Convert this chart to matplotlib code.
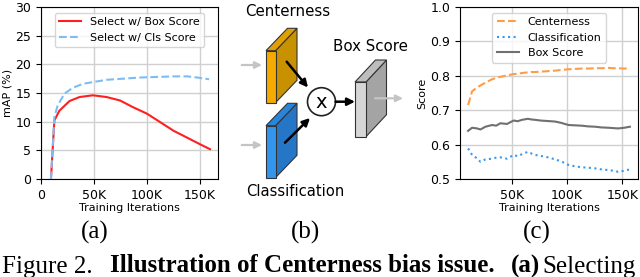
import matplotlib
matplotlib.use("Agg")
import matplotlib.pyplot as plt
from matplotlib.patches import Polygon, Circle, FancyArrowPatch
from matplotlib.ticker import FuncFormatter

# ---- data: panel (a) mAP vs training iterations ----
box_x = [9400, 12600, 17300, 26900, 36400, 49000, 61800, 74500, 87100,
         99900, 112600, 125200, 138000, 150700, 159500]
box_y = [0, 10.2, 11.9, 13.6, 14.3, 14.6, 14.3, 13.7, 12.5,
         11.4, 9.9, 8.4, 7.2, 6.0, 5.2]
cls_x = [9400, 12600, 15700, 22100, 30000, 39500, 49000, 61800, 77600,
         93500, 109400, 125200, 138000, 147500, 158600]
cls_y = [0, 10.8, 12.8, 14.9, 15.9, 16.6, 16.9, 17.3, 17.5,
         17.7, 17.8, 17.9, 17.9, 17.7, 17.4]

# ---- data: panel (c) scores vs training iterations ----
c_x = [10600, 14200, 18700, 21800, 26300, 32300, 36000, 39800, 45800, 51800, 55500, 59300,
       64700, 68000, 71300, 76000, 80400, 89400, 95000, 101400, 107000, 113400, 119000,
       125400, 131000, 137400, 142000, 146400, 152000, 157000]
centerness = [0.715, 0.755, 0.766, 0.772, 0.780, 0.790, 0.794, 0.797, 0.801, 0.805, 0.806, 0.808,
              0.810, 0.811, 0.811, 0.812, 0.813, 0.815, 0.817, 0.819, 0.820, 0.821, 0.821,
              0.822, 0.822, 0.823, 0.822, 0.822, 0.821, 0.822]
classification = [0.589, 0.570, 0.560, 0.550, 0.557, 0.559, 0.562, 0.563, 0.559, 0.570, 0.566, 0.572,
                   0.579, 0.574, 0.570, 0.567, 0.565, 0.557, 0.551, 0.541, 0.537, 0.534, 0.533,
                   0.531, 0.528, 0.526, 0.524, 0.521, 0.524, 0.528]
box_score = [0.640, 0.649, 0.647, 0.644, 0.652, 0.657, 0.655, 0.662, 0.660, 0.670, 0.668, 0.672,
             0.675, 0.673, 0.672, 0.670, 0.669, 0.667, 0.663, 0.657, 0.656, 0.655, 0.653,
             0.652, 0.650, 0.649, 0.648, 0.647, 0.649, 0.652]

kfmt = FuncFormatter(lambda v, p: "0" if v == 0 else "%dK" % (v / 1000))

fig = plt.figure(figsize=(6.4, 2.77), dpi=100)
plt.rcParams['font.size'] = 8

# ---- panel (a) ----
ax1 = fig.add_axes([41 / 640, 1 - 179 / 277, 177 / 640, 172 / 277])
ax1.plot(box_x, box_y, color='#ff1f1f', lw=1.5, label='Select w/ Box Score')
ax1.plot(cls_x, cls_y, color='#7dbcf5', lw=1.5, ls='--', label='Select w/ Cls Score')
ax1.set_ylim(0, 30)
ax1.set_yticks([0, 5, 10, 15, 20, 25, 30])
ax1.set_xticks([0, 50000, 100000, 150000])
ax1.xaxis.set_major_formatter(kfmt)
ax1.tick_params(labelsize=9)
ax1.set_xlabel("Training Iterations", labelpad=1)
ax1.set_ylabel("mAP (%)", labelpad=2)
ax1.grid(True, color='#d0d0d0', lw=1)
ax1.set_axisbelow(True)
ax1.legend(loc='upper center', fontsize=8)

# ---- panel (c) ----
ax3 = fig.add_axes([460 / 640, 1 - 179 / 277, 178 / 640, 172 / 277])
ax3.plot(c_x, centerness, color='#ff9d45', lw=1.5, ls='--', label='Centerness')
ax3.plot(c_x, classification, color='#3a98ee', lw=1.5, ls=':', label='Classification')
ax3.plot(c_x, box_score, color='#707070', lw=1.5, label='Box Score')
ax3.set_ylim(0.5, 1.0)
ax3.set_yticks([0.5, 0.6, 0.7, 0.8, 0.9, 1.0])
ax3.set_xticks([50000, 100000, 150000])
ax3.xaxis.set_major_formatter(kfmt)
ax3.tick_params(labelsize=9)
ax3.set_xlabel("Training Iterations", labelpad=1)
ax3.set_ylabel("Score", labelpad=2)
ax3.grid(True, color='#d0d0d0', lw=1)
ax3.set_axisbelow(True)
ax3.legend(loc='upper center', fontsize=8)

# ---- overlay in pixel coords for diagram (b) and captions ----
ov = fig.add_axes([0, 0, 1, 1])
ov.set_xlim(0, 640)
ov.set_ylim(277, 0)
ov.axis('off')


def slab(x0, y0, w, h, dx, dy, front, side, top):
    ov.add_patch(Polygon([(x0 + w, y0), (x0 + w + dx, y0 - dy), (x0 + w + dx, y0 + h - dy), (x0 + w, y0 + h)],
                         closed=True, fc=side, ec='#333333', lw=0.8))
    ov.add_patch(Polygon([(x0, y0), (x0 + w, y0), (x0 + w + dx, y0 - dy), (x0 + dx, y0 - dy)],
                         closed=True, fc=top, ec='#333333', lw=0.8))
    ov.add_patch(Polygon([(x0, y0), (x0 + w, y0), (x0 + w, y0 + h), (x0, y0 + h)],
                         closed=True, fc=front, ec='#333333', lw=0.8))


def arrow(p0, p1, color, lw, ms=10):
    ov.add_patch(FancyArrowPatch(p0, p1, arrowstyle='-|>', mutation_scale=ms,
                                 color=color, lw=lw, shrinkA=0, shrinkB=0))


# input arrows
arrow((241.7, 65), (262, 65), '#c4c4c4', 1.6)
arrow((241.7, 145), (262, 145), '#c4c4c4', 1.6)

slab(266, 50.7, 9.5, 52, 21.5, 22.4, '#f5aa00', '#c89100', '#e0a000')
slab(266, 125.7, 9.5, 52, 21.5, 22.4, '#3396ee', '#2676c8', '#2a84d8')
slab(355, 82, 11, 54.7, 20.5, 22, '#d6d6d6', '#a4a4a4', '#bdbdbd')

ov.add_patch(Circle((321.5, 101.7), 14, fc='white', ec='#222222', lw=1.2))
ov.text(321.5, 102.5, "x", ha='center', va='center', fontsize=14)

arrow((286.7, 61.7), (308, 87.5), 'black', 1.8, 11)
arrow((285, 142.7), (310, 118), 'black', 1.8, 11)
arrow((335.5, 101.7), (355, 101.7), 'black', 1.8, 11)
arrow((375, 98.3), (403, 98.3), '#c4c4c4', 1.6)

ov.text(287.3, 11, "Centerness", ha='center', va='center', fontsize=10.8)
ov.text(370, 46.7, "Box Score", ha='center', va='center', fontsize=10.8)
ov.text(295, 191.7, "Classification", ha='center', va='center', fontsize=10.6)

# sub-figure labels
serif = ['Liberation Serif', 'DejaVu Serif']
for lx, lab in [(95, "(a)"), (306, "(b)"), (537, "(c)")]:
    ov.text(lx, 232, lab, ha='center', va='center', fontsize=18, family=serif)

# caption with mixed weights
pieces = [(2, "Figure 2.", 'normal'), (110, "Illustration of Centerness bias issue.", 'bold'),
          (511, "(a)", 'bold'), (542, "Selecting", 'normal')]
for px, s, wgt in pieces:
    ov.text(px, 272.5, s, ha='left', va='baseline', fontsize=18, family=serif, fontweight=wgt)

fig.savefig("out.png", dpi=100)
